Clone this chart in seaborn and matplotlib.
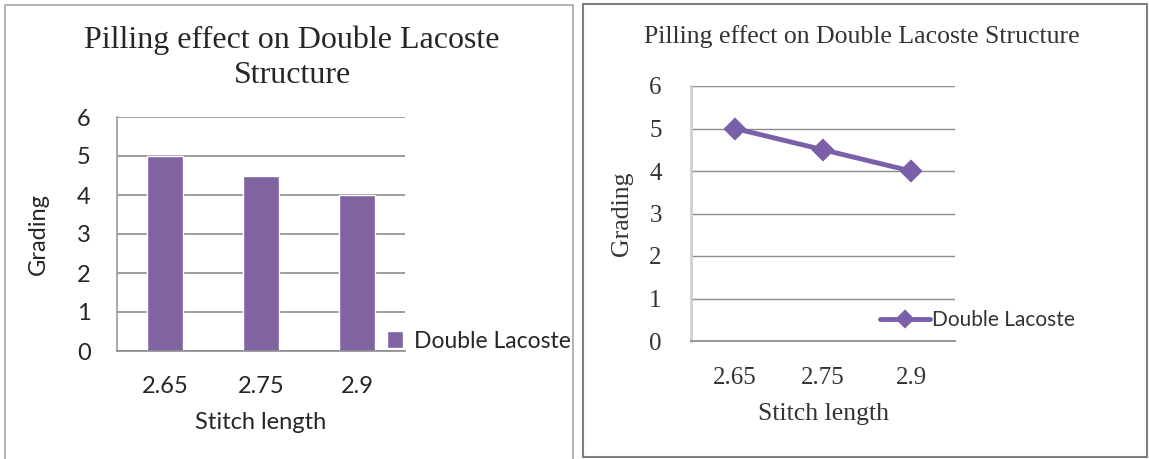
import matplotlib
matplotlib.use("Agg")
import matplotlib.pyplot as plt
from matplotlib.patches import Rectangle
import seaborn as sns

# data
stitch_length = ["2.65", "2.75", "2.9"]
grading = [5, 4.5, 4]
series_name = "Double Lacoste"
y_ticks = [0, 1, 2, 3, 4, 5, 6]

W, H = 1149, 459
bar_color = "#8064A2"
line_color = "#7B5FA8"
grid_color = "#8C8C8C"

sns.set_theme(style="white")
plt.rcParams["font.family"] = ["Lato", "DejaVu Sans"]


def box(x0, y0, x1, y1):
    # pixel box (top-left origin) -> figure fraction rect
    return [x0 / W, 1 - y1 / H, (x1 - x0) / W, (y1 - y0) / H]


fig = plt.figure(figsize=(W / 100, H / 100), dpi=100)

# panel frames
fig.patches.append(Rectangle((5 / W, -0.01), 568 / W, 1 - 5 / H + 0.01,
                             transform=fig.transFigure, fill=False,
                             edgecolor="#A6A6A6", linewidth=1.2, zorder=5))
fig.patches.append(Rectangle((583 / W, 2 / H), 564 / W, 1 - 6 / H,
                             transform=fig.transFigure, fill=False,
                             edgecolor="#7F7F7F", linewidth=1.5))

# ---------------- left: bar chart ----------------
ax1 = fig.add_axes(box(117, 117, 405, 351))
sns.barplot(x=stitch_length, y=grading, color=bar_color, width=0.38,
            saturation=1, label=series_name, ax=ax1)
ax1.set_ylim(0, 6)
ax1.set_xlim(-0.5, 2.5)
ax1.set_yticks(y_ticks)
ax1.yaxis.grid(True, color=grid_color, linewidth=1.2)
ax1.set_axisbelow(True)
for s in ["top", "right"]:
    ax1.spines[s].set_visible(False)
ax1.spines["left"].set_color("#A0A0A0")
ax1.spines["bottom"].set_color(grid_color)
ax1.spines["bottom"].set_linewidth(1.2)
ax1.tick_params(axis="y", direction="out", length=9, width=1.2,
                color=grid_color, labelsize=17, pad=10)
ax1.tick_params(axis="x", length=0, labelsize=17, pad=18)
ax1.set_xlabel("Stitch length", fontsize=17, labelpad=11)
ax1.set_ylabel("Grading", fontsize=17, labelpad=20)
fig.text(292 / W, 1 - 58 / H, "Pilling effect on Double Lacoste\nStructure",
         ha="center", va="center", family="Liberation Serif", fontsize=23,
         linespacing=1.28)
ax1.legend(loc="center left", bbox_to_anchor=(387 / W, 1 - 341 / H),
           bbox_transform=fig.transFigure, frameon=False, fontsize=16.5,
           handlelength=0.7, handleheight=0.7, handletextpad=0.5,
           borderpad=0, borderaxespad=0)

# ---------------- right: line chart ----------------
ax2 = fig.add_axes(box(691, 86, 955, 341))
sns.pointplot(x=stitch_length, y=grading, color=line_color, markers="D",
              markersize=9.5, linewidth=3.5, label=series_name, ax=ax2)
ax2.set_ylim(0, 6)
ax2.set_xlim(-0.5, 2.5)
ax2.set_yticks(y_ticks)
ax2.yaxis.grid(True, color=grid_color, linewidth=1.0)
ax2.set_axisbelow(True)
for s in ["top", "right"]:
    ax2.spines[s].set_visible(False)
ax2.spines["left"].set_color("#CFCFCF")
ax2.spines["left"].set_linewidth(2)
ax2.spines["bottom"].set_color(grid_color)
ax2.tick_params(axis="y", direction="out", length=9, width=1.0,
                color=grid_color, labelsize=18, pad=12)
ax2.tick_params(axis="x", length=0, labelsize=18, pad=19)
for lab in ax2.get_xticklabels() + ax2.get_yticklabels():
    lab.set_family("Liberation Serif")
    lab.set_color("#333333")
ax2.set_xlabel("Stitch length", family="Liberation Serif", fontsize=18.5,
               color="#333333", labelpad=10)
ax2.set_ylabel("Grading", family="Liberation Serif", fontsize=18.5,
               color="#333333", labelpad=12)
fig.text(862 / W, 1 - 37 / H, "Pilling effect on Double Lacoste Structure",
         ha="center", va="center", family="Liberation Serif", fontsize=18.5,
         color="#333333")
ax2.legend(loc="center left", bbox_to_anchor=(880 / W, 1 - 320 / H),
           bbox_transform=fig.transFigure, frameon=False, fontsize=15,
           handlelength=2.4, handletextpad=0.1, borderpad=0,
           borderaxespad=0, labelcolor="#333333", markerscale=0.8)

fig.savefig("out.png", dpi=100)
